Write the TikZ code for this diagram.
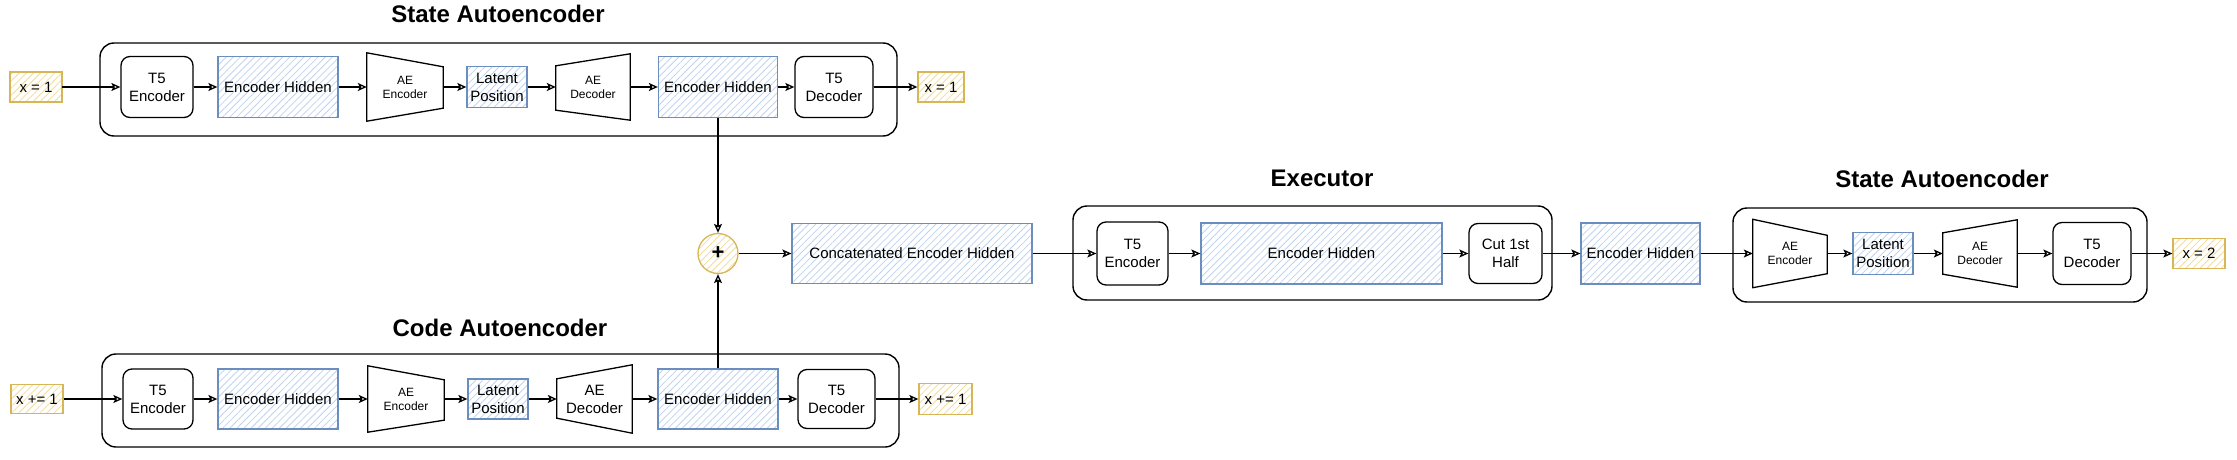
\documentclass[tikz,border=0pt]{standalone}
\usepackage{fontspec}
\setmainfont{Liberation Sans}
\usetikzlibrary{arrows.meta,patterns.meta}
\definecolor{bbord}{HTML}{6C8EBF}
\definecolor{bhatch}{HTML}{BFD3EE}
\definecolor{ybord}{HTML}{D6B656}
\definecolor{yhatch}{HTML}{F2DC9A}
\tikzset{
 lbl/.style={font=\fontsize{15}{18}\selectfont, align=center, inner sep=0pt},
 small/.style={font=\fontsize{12}{14}\selectfont, align=center, inner sep=0pt},
 t5box/.style={lbl, draw, line width=1.3pt, rounded corners=9pt},
 hid/.style={lbl, draw=bbord, line width=1.3pt, pattern={Lines[angle=45,distance=5pt,line width=0.8pt]}, pattern color=bhatch},
 iobox/.style={lbl, draw=ybord, line width=1.3pt, pattern={Lines[angle=45,distance=5pt,line width=0.8pt]}, pattern color=yhatch},
 cont/.style={draw, line width=1.4pt, rounded corners=14pt, inner sep=0pt},
 ttl/.style={font=\bfseries\fontsize{24}{28}\selectfont, inner sep=0pt},
 conn/.style={line width=1.3pt, -{Stealth[open,length=9pt,width=8pt,inset=2pt]}},
 trapline/.style={line width=1.3pt, line join=miter},
 sz/.style 2 args={minimum width=#1pt, minimum height=#2pt},
}
\newcommand\encshape[3]{\draw[trapline] (#1.north west) -- ([yshift=-#2pt]#1.north east) -- ([yshift=#3pt]#1.south east) -- (#1.south west) -- cycle;}
\newcommand\decshape[3]{\draw[trapline] ([yshift=-#2pt]#1.north west) -- (#1.north east) -- (#1.south east) -- ([yshift=#3pt]#1.south west) -- cycle;}
\begin{document}
\begin{tikzpicture}[x=1pt,y=-1pt]
\useasboundingbox (0,0) rectangle (2237,460);
% ---------- containers ----------
\node[cont, sz={797}{93}] (c1) at (498.5,89.5) {};
\node[cont, sz={797}{93}] (c2) at (500.5,400.5) {};
\node[cont, sz={479}{94}] (c3) at (1312.5,253) {};
\node[cont, sz={414}{94}] (c4) at (1940,255) {};
% ---------- titles ----------
\node[ttl] (t1) at (498,14) {State Autoencoder};
\node[ttl] (t2) at (500,328) {Code Autoencoder};
\node[ttl] (t3) at (1322,178) {Executor};
\node[ttl] (t4) at (1942,179) {State Autoencoder};
% ---------- top row ----------
\node[iobox, sz={52}{30}] (in1) at (36,87) {x = 1};
\node[t5box, sz={72}{61}] (t5e1) at (157,87) {T5\\Encoder};
\node[hid, sz={120}{61}] (eh1) at (278,87) {Encoder Hidden};
\node[small, sz={76}{68}] (aee1) at (405,87) {AE\\Encoder};
\encshape{aee1}{14}{13}
\node[hid, sz={60}{41}] (lp1) at (497,87) {Latent\\Position};
\node[small, sz={74}{66}] (aed1) at (593,87) {AE\\Decoder};
\decshape{aed1}{12}{10}
\node[hid, sz={119}{61}] (eh2) at (718,87) {Encoder Hidden};
\node[t5box, sz={78}{61}] (t5d1) at (834,87) {T5\\Decoder};
\node[iobox, sz={46}{30}] (out1) at (941,87) {x = 1};
% ---------- bottom row ----------
\node[iobox, sz={52}{29}] (in2) at (37,399) {x += 1};
\node[t5box, sz={70}{60}] (t5e2) at (158,399) {T5\\Encoder};
\node[hid, sz={120}{60}] (eh3) at (278,399) {Encoder Hidden};
\node[small, sz={76}{66}] (aee2) at (406,399) {AE\\Encoder};
\encshape{aee2}{14}{12}
\node[hid, sz={60}{40}] (lp2) at (498,399) {Latent\\Position};
\node[lbl, sz={75}{68}] (aed2) at (594.5,399) {AE\\Decoder};
\decshape{aed2}{14}{15}
\node[hid, sz={120}{60}] (eh4) at (718,399) {Encoder Hidden};
\node[t5box, sz={77}{59}] (t5d2) at (836.5,399) {T5\\Decoder};
\node[iobox, sz={53}{31}] (out2) at (945.5,399) {x += 1};
% ---------- middle ----------
\node[circle, draw=ybord, line width=1.3pt, pattern={Lines[angle=45,distance=5pt,line width=0.8pt]}, pattern color=yhatch, minimum size=40pt, inner sep=0pt, font=\bfseries\fontsize{22}{22}\selectfont] (plus) at (718,253.5) {+};
\node[hid, sz={240}{60}] (cat) at (912,253.5) {Concatenated Encoder Hidden};
\node[t5box, sz={71}{63}] (t5e3) at (1132.5,253.5) {T5\\Encoder};
\node[hid, sz={241}{61}] (eh5) at (1321.5,253.5) {Encoder Hidden};
\node[t5box, sz={73}{60}] (cut) at (1505.5,253.5) {Cut 1st\\Half};
\node[hid, sz={119}{61}] (eh6) at (1640.5,253.5) {Encoder Hidden};
\node[small, sz={74}{68}] (aee3) at (1790,253.5) {AE\\Encoder};
\encshape{aee3}{16}{14}
\node[hid, sz={60}{42}] (lp3) at (1883,253.5) {Latent\\Position};
\node[small, sz={74}{67}] (aed3) at (1980,253.5) {AE\\Decoder};
\decshape{aed3}{13}{13}
\node[t5box, sz={78}{62}] (t5d3) at (2092,253.5) {T5\\Decoder};
\node[iobox, sz={52}{30}] (out3) at (2199,253.5) {x = 2};
% ---------- connectors ----------
\draw[conn] (in1.east) -- (t5e1.west);
\draw[conn] (t5e1.east) -- (eh1.west);
\draw[conn] (eh1.east) -- (aee1.west);
\draw[conn] (aee1.east) -- (lp1.west);
\draw[conn] (lp1.east) -- (aed1.west);
\draw[conn] (aed1.east) -- (eh2.west);
\draw[conn] (eh2.east) -- (t5d1.west);
\draw[conn] (t5d1.east) -- (out1.west);
\draw[conn] (in2.east) -- (t5e2.west);
\draw[conn] (t5e2.east) -- (eh3.west);
\draw[conn] (eh3.east) -- (aee2.west);
\draw[conn] (aee2.east) -- (lp2.west);
\draw[conn] (lp2.east) -- (aed2.west);
\draw[conn] (aed2.east) -- (eh4.west);
\draw[conn] (eh4.east) -- (t5d2.west);
\draw[conn] (t5d2.east) -- (out2.west);
\draw[conn] (eh2.south) -- (plus.north);
\draw[conn] (eh4.north) -- (plus.south);
\draw[conn] (plus.east) -- (cat.west);
\draw[conn] (cat.east) -- (t5e3.west);
\draw[conn] (t5e3.east) -- (eh5.west);
\draw[conn] (eh5.east) -- (cut.west);
\draw[conn] (cut.east) -- (eh6.west);
\draw[conn] (eh6.east) -- (aee3.west);
\draw[conn] (aee3.east) -- (lp3.west);
\draw[conn] (lp3.east) -- (aed3.west);
\draw[conn] (aed3.east) -- (t5d3.west);
\draw[conn] (t5d3.east) -- (out3.west);
\end{tikzpicture}
\end{document}
